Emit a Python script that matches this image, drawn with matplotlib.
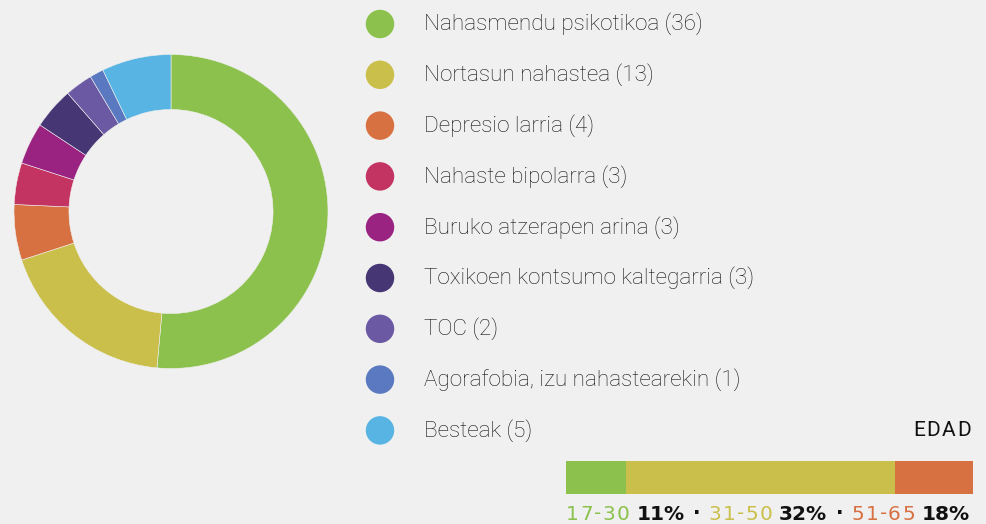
import matplotlib
matplotlib.use('Agg')
import matplotlib.pyplot as plt

# datos
labels = ['Nahasmendu psikotikoa', 'Nortasun nahastea', 'Depresio larria',
          'Nahaste bipolarra', 'Buruko atzerapen arina',
          'Toxikoen kontsumo kaltegarria', 'TOC',
          'Agorafobia, izu nahastearekin', 'Besteak']
counts = [36, 13, 4, 3, 3, 3, 2, 1, 5]
colors = ['#8bc14c', '#cbbf4b', '#d87142', '#c33462', '#9a2280',
          '#463673', '#6b5aa3', '#5b79c0', '#58b4e3']

age_groups = ['17-30', '31-50', '51-65']
age_pct = ['11%', '32%', '18%']
age_bar = [60, 269, 78]  # anchura de cada tramo en la barra
age_colors = ['#8bc14c', '#cbbf4b', '#d87142']

bg = '#f0f0f0'
W, H = 987, 524
fig = plt.figure(figsize=(W / 100, H / 100), dpi=100, facecolor=bg)

# donut
cx, cy, r = 171, 211.5, 157
ax = fig.add_axes([(cx - r) / W, (H - cy - r) / H, 2 * r / W, 2 * r / H])
ax.set_facecolor(bg)
ax.pie(counts, colors=colors, startangle=90, counterclock=False, radius=1,
       wedgeprops=dict(width=0.35, edgecolor=bg, linewidth=0.4))
ax.set_xlim(-1, 1)
ax.set_ylim(-1, 1)
ax.set_aspect('equal')
ax.axis('off')

# leyenda
lg = fig.add_axes([0, 0, 1, 1])
lg.set_xlim(0, W)
lg.set_ylim(H, 0)
lg.axis('off')
y0, dy = 24, 50.8
for i, (lab, n, c) in enumerate(zip(labels, counts, colors)):
    y = y0 + i * dy
    lg.scatter([380], [y], s=420, color=c, edgecolor='none')
    lg.text(424, y, '%s (%d)' % (lab, n), fontsize=16.2, family='Roboto',
            fontweight='light', color='#151515', va='center', ha='left')


def chain(prev, txt, c, fw, gap, fs, fam):
    # texto pegado a la derecha del anterior
    return lg.annotate(txt, xy=(1, 0.5), xycoords=prev, xytext=(gap, 0),
                       textcoords='offset points', fontsize=fs, family=fam,
                       fontweight=fw, color=c, va='center', ha='left')


# titulo EDAD con algo de espaciado
t = lg.text(913, 430, 'E', fontsize=15, family='Roboto',
            color='#111111', va='center', ha='left')
for ch in 'DAD':
    t = chain(t, ch, '#111111', 'normal', 1.2, 15, 'Roboto')

left = 566
for w, c in zip(age_bar, age_colors):
    lg.barh(477.5, w, height=33, left=left, color=c)
    left += w

fs = 14.5
prev = None
for i, (g, p, c) in enumerate(zip(age_groups, age_pct, age_colors)):
    for j, ch in enumerate(g):
        if prev is None:
            prev = lg.text(566, 514, ch, fontsize=fs, family='DejaVu Sans',
                           color=c, va='center', ha='left')
        else:
            prev = chain(prev, ch, c, 'normal', 0.9 if j > 0 else 6, fs, 'DejaVu Sans')
    prev = chain(prev, p, '#111111', 'bold', 5, fs, 'DejaVu Sans')
    if i < len(age_groups) - 1:
        prev = chain(prev, '·', '#111111', 'bold', 6, fs, 'DejaVu Sans')

fig.savefig('out.png', dpi=100, facecolor=bg)
